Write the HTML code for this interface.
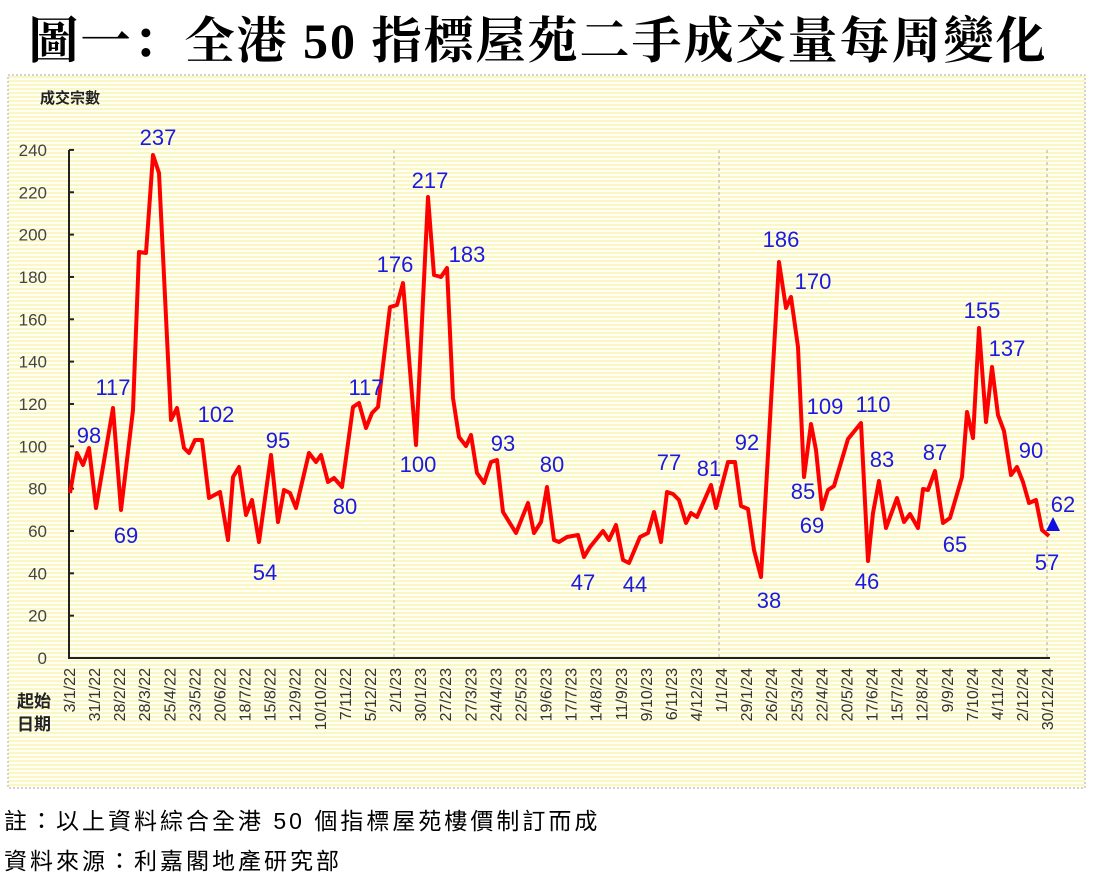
<!DOCTYPE html>
<html><head><meta charset="utf-8"><style>
body{margin:0;width:1100px;height:875px;background:#fff;overflow:hidden;font-family:"Liberation Sans","Noto Sans CJK TC",sans-serif}
.t{position:absolute;left:-12px;top:1px;width:1100px;text-align:center;font-size:50px;font-weight:bold;letter-spacing:2px;font-family:"Liberation Serif","Noto Serif CJK SC","Noto Sans CJK TC",serif}
.n{position:absolute;left:4px;font-size:23px;letter-spacing:3px;color:#000}
</style></head><body>
<div class="t">圖一：全港 50 指標屋苑二手成交量每周變化</div>
<svg style="position:absolute;left:0;top:0" width="1100" height="875">
<defs><pattern id="p" width="4" height="4" patternUnits="userSpaceOnUse"><rect width="4" height="4" fill="#fffff4"/><rect width="4" height="2" fill="#fbf7c4"/></pattern></defs>
<rect x="8" y="75" width="1077" height="713" fill="url(#p)" stroke="#aaa" stroke-dasharray="2,2"/>
<text x="40" y="103" font-size="15" font-weight="bold" fill="#222" font-family="Liberation Sans,Noto Sans CJK TC,sans-serif">成交宗數</text>
<text x="17" y="707" font-size="17" font-weight="bold" fill="#222">起始</text>
<text x="17" y="730" font-size="17" font-weight="bold" fill="#222">日期</text>
<g stroke="#aaa" stroke-dasharray="3,3"><line x1="394" y1="150" x2="394" y2="658"/><line x1="719" y1="150" x2="719" y2="658"/><line x1="1047" y1="150" x2="1047" y2="658"/></g>
<g stroke="#222" stroke-width="2"><line x1="69" y1="150" x2="69" y2="659"/><line x1="68" y1="658" x2="1050" y2="658"/></g>
<g id="yt" font-size="17" fill="#444" text-anchor="end"></g>
<g id="xt" font-size="16" fill="#333"></g>
<polyline fill="none" stroke="#ff0000" stroke-width="4" stroke-linejoin="round" points="70,493 77,453 83,465 89,448 96,508 113,408 121,510 133,410 139,252 146,253 153,155 159,173 171,420 177,408 184,448 189,453 195,440 202,440 209,498 220,492 228,540 233,477 239,467 246,515 252,500 259,542 271,455 278,522 284,490 290,493 296,508 309,453 316,462 321,455 328,482 334,478 342,487 353,407 359,403 366,428 372,413 378,407 390,307 397,305 403,283 416,445 428,197 434,275 441,277 447,268 453,398 459,437 466,446 471,435 477,473 484,483 491,462 497,460 503,512 516,533 528,503 534,533 541,522 547,487 554,540 559,542 567,537 578,535 584,557 590,547 603,531 609,540 616,525 623,560 629,563 640,537 648,533 654,512 661,542 667,492 673,494 679,500 686,523 691,513 697,517 711,485 716,508 728,462 735,462 741,506 748,509 754,550 761,577 779,262 786,308 791,297 798,347 804,477 811,424 816,450 822,509 828,490 834,486 848,439 861,423 868,561 873,513 879,481 886,528 897,498 904,522 910,514 918,528 923,489 928,490 935,471 943,523 950,518 962,477 967,412 973,438 979,328 986,422 992,367 998,415 1004,431 1011,475 1017,467 1023,482 1029,503 1036,500 1042,530 1049,536"/>
<polygon points="1053,517 1046,531 1060,531" fill="#1010e0"/>
<g font-size="22" fill="#1a1ae0" text-anchor="middle" font-weight="500">
<text x="158" y="145">237</text><text x="89" y="443">98</text><text x="113" y="395">117</text><text x="126" y="543">69</text><text x="216" y="422">102</text><text x="278" y="448">95</text><text x="265" y="580">54</text><text x="366" y="395">117</text><text x="345" y="514">80</text><text x="395" y="272">176</text><text x="418" y="472">100</text><text x="430" y="188">217</text><text x="467" y="262">183</text><text x="503" y="451">93</text><text x="552" y="472">80</text><text x="583" y="590">47</text><text x="635" y="592">44</text><text x="669" y="470">77</text><text x="709" y="476">81</text><text x="747" y="450">92</text><text x="769" y="608">38</text><text x="781" y="247">186</text><text x="813" y="289">170</text><text x="825" y="414">109</text><text x="873" y="412">110</text><text x="803" y="499">85</text><text x="812" y="533">69</text><text x="882" y="467">83</text><text x="867" y="589">46</text><text x="935" y="460">87</text><text x="955" y="552">65</text><text x="982" y="318">155</text><text x="1007" y="356">137</text><text x="1031" y="458">90</text><text x="1063" y="512">62</text><text x="1047" y="570">57</text>
</g>
</svg>
<div class="n" style="top:802px">註：以上資料綜合全港 50 個指標屋苑樓價制訂而成</div>
<div class="n" style="top:842px">資料來源：利嘉閣地產研究部</div>
<script>
var ns="http://www.w3.org/2000/svg";
var yt=document.getElementById("yt");
for(var v=0;v<=240;v+=20){var y=658-v*2.117;var t=document.createElementNS(ns,"text");t.setAttribute("x",47);t.setAttribute("y",y+6);t.textContent=v;yt.appendChild(t);
var l=document.createElementNS(ns,"line");l.setAttribute("x1",69);l.setAttribute("x2",74);l.setAttribute("y1",y);l.setAttribute("y2",y);l.setAttribute("stroke","#222");l.setAttribute("stroke-width","2");yt.appendChild(l);}
var labs=["3/1/22","31/1/22","28/2/22","28/3/22","25/4/22","23/5/22","20/6/22","18/7/22","15/8/22","12/9/22","10/10/22","7/11/22","5/12/22","2/1/23","30/1/23","27/2/23","27/3/23","24/4/23","22/5/23","19/6/23","17/7/23","14/8/23","11/9/23","9/10/23","6/11/23","4/12/23","1/1/24","29/1/24","26/2/24","25/3/24","22/4/24","20/5/24","17/6/24","15/7/24","12/8/24","9/9/24","7/10/24","4/11/24","2/12/24","30/12/24"];
var xt=document.getElementById("xt");
for(var i=0;i<labs.length;i++){var w=i<39?i*4:156;var x=69+w*6.27+6;var t=document.createElementNS(ns,"text");t.setAttribute("transform","translate("+x+",668) rotate(-90)");t.setAttribute("text-anchor","end");t.textContent=labs[i];xt.appendChild(t);}
</script>
</body></html>
